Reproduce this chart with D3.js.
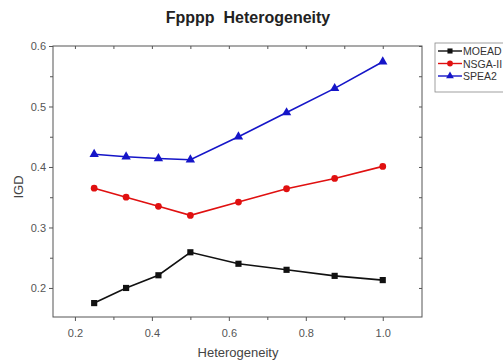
<!DOCTYPE html>
<html>
<head>
<meta charset="utf-8">
<script src="https://cdn.jsdelivr.net/npm/d3@7"></script>
<style>
  body { margin: 0; background: #fff; }
  svg { font-family: Arial, "Liberation Sans", sans-serif; }
</style>
</head>
<body>
<svg width="503" height="364"></svg>
<script>
const heterogeneity = [0.25, 0.333, 0.417, 0.5, 0.625, 0.75, 0.875, 1.0];
const moead = [0.175, 0.2, 0.221, 0.259, 0.240, 0.230, 0.220, 0.213];
const nsga2 = [0.365, 0.350, 0.335, 0.320, 0.342, 0.364, 0.381, 0.401];
const spea2 = [0.421, 0.417, 0.414, 0.412, 0.450, 0.490, 0.530, 0.574];
const xTicks = [0.2, 0.4, 0.6, 0.8, 1.0];
const yTicks = [0.2, 0.3, 0.4, 0.5, 0.6];

const series = [
  { name: "MOEAD", values: moead, color: "#111", marker: d3.symbolSquare },
  { name: "NSGA-II", values: nsga2, color: "#e01010", marker: d3.symbolCircle },
  { name: "SPEA2", values: spea2, color: "#1515c8", marker: d3.symbolTriangle }
];

const svg = d3.select("svg");
const m = { left: 53, top: 46, right: 422, bottom: 317 };

const x = d3.scaleLinear().domain([0.143, 1.102]).range([m.left, m.right]);
const y = d3.scaleLinear().domain([0.152, 0.6]).range([m.bottom, m.top]);

const axisColor = "#555";

// frame
svg.append("rect")
  .attr("x", m.left).attr("y", m.top)
  .attr("width", m.right - m.left).attr("height", m.bottom - m.top)
  .attr("fill", "none").attr("stroke", axisColor).attr("stroke-width", 1);

// bottom axis
const gx = svg.append("g").attr("transform", `translate(0,${m.bottom})`)
  .call(d3.axisBottom(x).tickValues(xTicks).tickFormat(d3.format(".1f")).tickSize(4));
gx.select(".domain").remove();
svg.append("g").attr("transform", `translate(0,${m.bottom})`)
  .call(d3.axisBottom(x).tickValues(d3.range(0.3, 1.1, 0.2)).tickFormat("").tickSize(3))
  .select(".domain").remove();

// top axis ticks (inward)
svg.append("g").attr("transform", `translate(0,${m.top})`)
  .call(d3.axisBottom(x).tickValues(d3.range(0.2, 1.05, 0.1)).tickFormat("").tickSize(3))
  .select(".domain").remove();

// left axis
const gy = svg.append("g").attr("transform", `translate(${m.left},0)`)
  .call(d3.axisLeft(y).tickValues(yTicks).tickFormat(d3.format(".1f")).tickSize(4));
gy.select(".domain").remove();
svg.append("g").attr("transform", `translate(${m.left},0)`)
  .call(d3.axisLeft(y).tickValues([0.25, 0.35, 0.45, 0.55]).tickFormat("").tickSize(3))
  .select(".domain").remove();

// right axis ticks (inward)
svg.append("g").attr("transform", `translate(${m.right},0)`)
  .call(d3.axisLeft(y).tickValues(d3.range(0.2, 0.61, 0.05)).tickFormat("").tickSize(3))
  .select(".domain").remove();

svg.selectAll(".tick line").attr("stroke", axisColor);
svg.selectAll(".tick text").attr("fill", "#555").style("font-size", "11px");
gx.selectAll(".tick text").attr("dy", "1.15em");

// lines + markers
const line = d3.line().x((d, i) => x(heterogeneity[i])).y(d => y(d));
series.forEach(s => {
  svg.append("path").datum(s.values)
    .attr("d", line).attr("fill", "none")
    .attr("stroke", s.color).attr("stroke-width", 1.6);
  svg.append("g").selectAll("path").data(s.values).join("path")
    .attr("transform", (d, i) => `translate(${x(heterogeneity[i])},${y(d)})`)
    .attr("d", d3.symbol().type(s.marker).size(s.marker === d3.symbolCircle ? 36 : 38))
    .attr("fill", s.color);
});

// title
svg.append("text").attr("x", 248).attr("y", 23)
  .attr("text-anchor", "middle").attr("font-weight", "bold")
  .style("font-size", "16px").attr("fill", "#222")
  .attr("xml:space", "preserve").text("Fpppp  Heterogeneity");

// axis titles
svg.append("text").attr("x", 238).attr("y", 357)
  .attr("text-anchor", "middle").style("font-size", "13px").attr("fill", "#444")
  .text("Heterogeneity");
svg.append("text").attr("transform", "translate(23,187) rotate(-90)")
  .attr("text-anchor", "middle").style("font-size", "13px").attr("fill", "#444")
  .text("IGD");

// legend
const lg = svg.append("g");
lg.append("rect").attr("x", 435).attr("y", 43).attr("width", 70).attr("height", 49)
  .attr("fill", "#fff").attr("stroke", "#888").attr("stroke-width", 0.8);
series.forEach((s, i) => {
  const ly = 51 + i * 12.5;
  lg.append("line").attr("x1", 438).attr("x2", 462).attr("y1", ly).attr("y2", ly)
    .attr("stroke", s.color).attr("stroke-width", 1.4);
  lg.append("path").attr("transform", `translate(450,${ly})`)
    .attr("d", d3.symbol().type(s.marker).size(26)).attr("fill", s.color);
  lg.append("text").attr("x", 463).attr("y", ly + 4)
    .style("font-size", "10.5px").attr("fill", "#333").text(s.name);
});
</script>
</body>
</html>
